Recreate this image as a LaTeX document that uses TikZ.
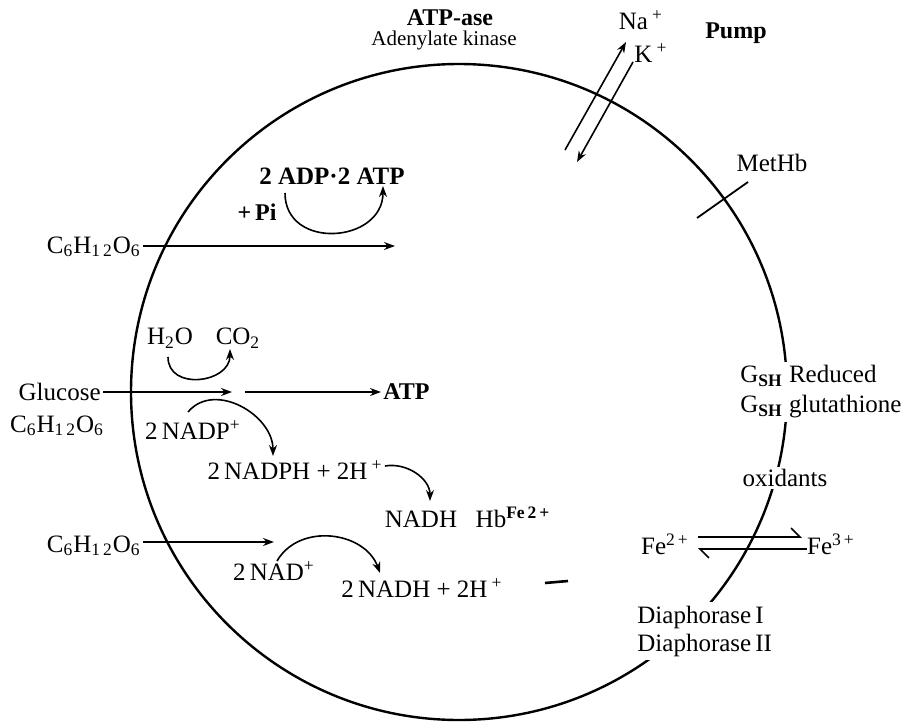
\documentclass[tikz,border=0pt]{standalone}
\usepackage{fontspec}
\setmainfont{Liberation Serif}
\usetikzlibrary{arrows.meta}
\tikzset{
  lbl/.style={inner sep=1pt, font=\fontsize{12.5}{15}\selectfont},
  blbl/.style={inner sep=1pt, font=\fontsize{12}{14}\selectfont\bfseries},
  small/.style={inner sep=1pt, font=\fontsize{10.5}{12}\selectfont},
  gap/.style={lbl, fill=white},
  flow/.style={-{Stealth[length=5.5pt,width=4pt]}, line width=0.8pt},
  harp/.style={-{Straight Barb[left,length=4.5pt]}, line width=0.8pt},
  membrane/.style={line width=1.2pt},
}
\newcommand{\glc}{C\textsubscript{6}H\textsubscript{1\,2}O\textsubscript{6}}
\begin{document}
\begin{tikzpicture}[x=0.5pt,y=-0.5pt]
\useasboundingbox (0,0) rectangle (906,724);
% the cell
\draw[membrane] (459,392) circle [radius=164pt];
% top labels
\node[blbl] (atpase) at (450,18) {ATP-ase};
\node[small] (kinase) at (444,40) {Adenylate kinase};
\node[lbl] (na) at (641,20) {Na\,\textsuperscript{+}};
\node[lbl] (k) at (651,53) {K\,\textsuperscript{+}};
\node[blbl] (pump) at (736,33) {Pump};
\coordinate (naA) at (565,150);
\coordinate (naB) at (626,42);
\coordinate (kA) at (633,62);
\coordinate (kB) at (577,162);
\draw[flow] (naA) -- (naB);
\draw[flow] (kA) -- (kB);
% methaemoglobin
\node[lbl] (methb) at (772,163) {MetHb};
\coordinate (mhA) at (697,218);
\coordinate (mhB) at (748,182);
\draw[line width=0.9pt] (mhA) -- (mhB);
% first glucose path
\node[blbl,font=\fontsize{12.5}{15}\selectfont\bfseries] (adp) at (332,176) {2 ADP·2 ATP};
\node[blbl] (pi) at (257,212) {+\,Pi};
\coordinate (adpA) at (285,193);
\coordinate (adpB) at (383,186);
\draw[flow] (adpA) to[out=-90,in=-90,looseness=1.5] (adpB);
\node[lbl,anchor=east] (glcA) at (143,247) {\glc};
\coordinate (glcAend) at (395,246);
\draw[flow] (glcA.east) ++(0,-1) -- (glcAend);
% second glucose path
\node[lbl] (h2o) at (170,338) {H\textsubscript{2}O};
\node[lbl] (co2) at (238,338) {CO\textsubscript{2}};
\coordinate (h2oA) at (168,357);
\coordinate (co2B) at (230,349);
\draw[flow] (h2oA) to[out=-90,in=-90,looseness=1.4] (co2B);
\node[lbl,anchor=east] (glucose) at (103,392) {Glucose};
\node[lbl] (glcB) at (57,426) {\glc};
\coordinate (glcBmid) at (232,392);
\coordinate (atpA) at (245,392);
\node[blbl,anchor=west] (atp) at (381,392) {ATP};
\draw[flow] (glucose.east) -- (glcBmid);
\draw[flow] (atpA) -- (atp.west);
\node[lbl] (nadp) at (193,430) {2\,NADP\textsuperscript{+}};
\coordinate (nadpA) at (188,412);
\coordinate (nadpB) at (273,456);
\draw[flow] (nadpA) to[out=50,in=90,looseness=1.1] (nadpB);
\node[lbl] (nadph) at (295,470) {2\,NADPH + 2H\,\textsuperscript{+}};
\coordinate (nadhA) at (430,501);
\draw[flow] (nadph.east) ++(0,-4) to[out=10,in=90] (nadhA);
\node[lbl] (nadh) at (421,519) {NADH};
\node[lbl] (hb) at (513,517) {Hb\textsuperscript{\bfseries Fe\,2\,+}};
% third glucose path
\node[lbl,anchor=east] (glcC) at (143,546) {\glc};
\coordinate (glcCend) at (274,542);
\draw[flow] (glcC.east) ++(0,-4) -- (glcCend);
\node[lbl] (nad) at (274,571) {2\,NAD\textsuperscript{+}};
\coordinate (nadA) at (277,561);
\coordinate (nadB) at (380,573);
\draw[flow] (nadA) to[out=60,in=110,looseness=1.1] (nadB);
\node[lbl] (nadh2) at (422,588) {2\,NADH + 2H\,\textsuperscript{+}};
\coordinate (dashA) at (545,583);
\coordinate (dashB) at (568,581);
\draw[line width=1.3pt] (dashA) -- (dashB);
% right side
\node[gap,anchor=west,align=left,inner sep=2pt] (gsh) at (736,392) {G\textsubscript{\bfseries SH} Reduced\\G\textsubscript{\bfseries SH} glutathione};
\node[gap] (ox) at (785,478) {oxidants};
\node[lbl] (fe2) at (665,544) {Fe\textsuperscript{2\,+}};
\node[lbl] (fe3) at (831,544) {Fe\textsuperscript{3\,+}};
\coordinate (feA) at (698,537);
\coordinate (feB) at (802,537);
\coordinate (feC) at (807,549);
\coordinate (feD) at (698,549);
\draw[harp] (feA) -- (feB);
\draw[harp] (feC) -- (feD);
\node[gap,anchor=west,align=left,inner sep=2pt,font=\fontsize{12.5}{14}\selectfont] (dia) at (633,631) {Diaphorase\,I\\Diaphorase\,II};
\end{tikzpicture}
\end{document}
